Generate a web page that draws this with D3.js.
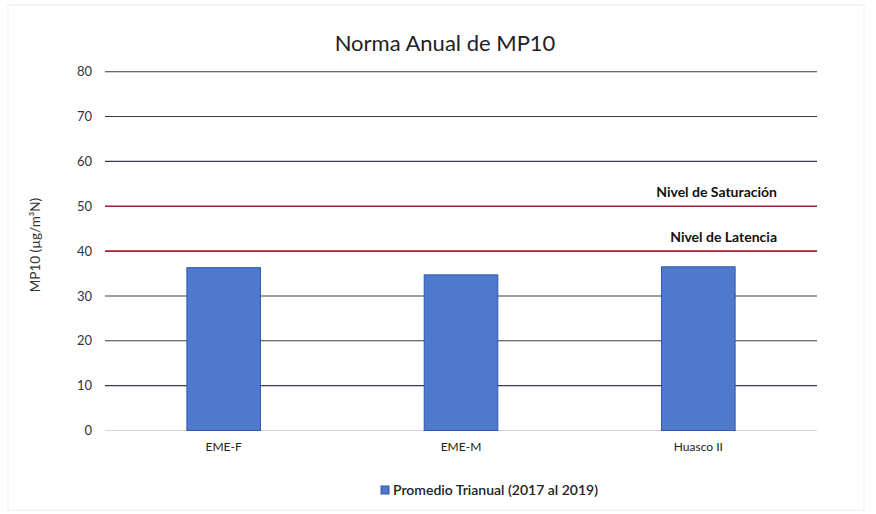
<!DOCTYPE html>
<html><head><meta charset="utf-8">
<script src="https://cdn.jsdelivr.net/npm/d3@7"></script>
<style>body{margin:0;background:#fff}svg{display:block}text{font-family:Lato,"Open Sans",sans-serif}</style>
</head><body><svg id="c" width="876" height="514"></svg>
<script>
const categories = ["EME-F", "EME-M", "Huasco II"];
const values = [36.3, 34.7, 36.5];
const seriesName = "Promedio Trianual (2017 al 2019)";
const yTicks = [0, 10, 20, 30, 40, 50, 60, 70, 80];
const refValues = [50, 40];
const refLabels = ["Nivel de Saturación", "Nivel de Latencia"];
const title = "Norma Anual de MP10";
const yLabel = "MP10 (µg/m³N)";

const svg = d3.select("#c");
const m = {l:105, r:817, t:71.7, b:430.5};
svg.append("rect").attr("x",8).attr("y",5).attr("width",856).attr("height",505)
  .attr("fill","#fff").attr("stroke","#ececec");

const x = d3.scaleBand().domain(categories).range([m.l, m.r]).paddingInner(0.69).paddingOuter(0.345);
const y = d3.scaleLinear().domain([0, 80]).range([m.b, m.t]);

// gridlines
svg.append("g").selectAll("line").data(yTicks.filter(t => !refValues.includes(t))).join("line")
  .attr("x1", m.l).attr("x2", m.r).attr("y1", d => y(d)).attr("y2", d => y(d))
  .attr("stroke", d => d === 0 ? "#d4d4d8" : "#3a3a48").attr("stroke-width", 1.1);

// y tick labels
svg.append("g").selectAll("text").data(yTicks).join("text")
  .attr("x", 92).attr("y", d => y(d)).attr("dy", "0.35em").attr("text-anchor", "end")
  .attr("font-size", 13).attr("fill", "#333").text(d => d);

// reference lines
svg.append("g").selectAll("line").data(refValues).join("line")
  .attr("x1", m.l).attr("x2", m.r).attr("y1", d => y(d)).attr("y2", d => y(d))
  .attr("stroke", "#a31d2c").attr("stroke-width", 1.6);
svg.append("g").selectAll("text").data(refValues).join("text")
  .attr("x", 777).attr("y", d => y(d) - 9).attr("text-anchor", "end")
  .attr("font-size", 14).attr("font-weight", "bold").attr("fill", "#111")
  .text((d, i) => refLabels[i]);

// bars
svg.append("g").selectAll("rect").data(values).join("rect")
  .attr("x", (d, i) => x(categories[i])).attr("width", x.bandwidth())
  .attr("y", d => y(d)).attr("height", d => y(0) - y(d))
  .attr("fill", "#4f79cc").attr("stroke", "#2f57ad").attr("stroke-width", 1);

// category labels
svg.append("g").selectAll("text").data(categories).join("text")
  .attr("x", d => x(d) + x.bandwidth() / 2).attr("y", 451).attr("text-anchor", "middle")
  .attr("font-size", 12).attr("fill", "#222").text(d => d);

// title
svg.append("text").attr("x", 445).attr("y", 51).attr("text-anchor", "middle")
  .attr("font-size", 22).attr("fill", "#222").text(title);

// y axis label
svg.append("text").attr("transform", "translate(40,245) rotate(-90)").attr("text-anchor", "middle")
  .attr("font-size", 13.5).attr("fill", "#333").text(yLabel);

// legend
const lg = svg.append("g");
lg.append("rect").attr("x", 381).attr("y", 486).attr("width", 8).attr("height", 8)
  .attr("fill", "#4f79cc").attr("stroke", "#2f57ad");
lg.append("text").attr("x", 393).attr("y", 495).attr("font-size", 14).attr("font-weight", 600)
  .attr("fill", "#222").text(seriesName);
</script></body></html>
